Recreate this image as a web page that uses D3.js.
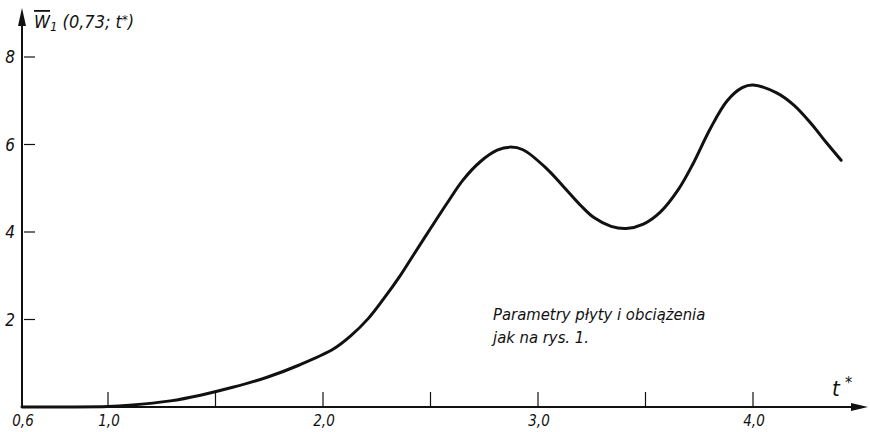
<!DOCTYPE html>
<html>
<head>
<meta charset="utf-8">
<script src="https://cdn.jsdelivr.net/npm/d3@7"></script>
<style>
  body { margin: 0; background: #fff; }
  text { font-family: 'DejaVu Sans Condensed', 'DejaVu Sans', sans-serif; font-style: italic; fill: #111; }
</style>
</head>
<body>
<svg id="chart"></svg>
<script>
const tValues = [0.6, 0.8, 1.0, 1.1, 1.29, 1.43, 1.58, 1.74, 1.89, 2.05, 2.13, 2.21, 2.28, 2.36, 2.42, 2.5, 2.58, 2.65, 2.73, 2.81, 2.87, 2.93, 3.04, 3.12, 3.2, 3.26, 3.34, 3.41, 3.49, 3.57, 3.65, 3.72, 3.8, 3.88, 3.95, 4.0, 4.11, 4.19, 4.27, 4.34, 4.41]
const wValues = [0, 0, 0.01, 0.04, 0.14, 0.27, 0.45, 0.68, 0.96, 1.33, 1.63, 2.02, 2.46, 3.01, 3.47, 4.08, 4.68, 5.18, 5.6, 5.87, 5.94, 5.88, 5.45, 5.03, 4.6, 4.33, 4.13, 4.08, 4.18, 4.46, 4.95, 5.55, 6.35, 7.0, 7.3, 7.36, 7.18, 6.9, 6.48, 6.05, 5.64]

const xTicks = [1.0, 1.5, 2.0, 2.5, 3.0, 3.5, 4.0]
const xTickLabels = [['0,6', 0.6], ['1,0', 1.0], ['2,0', 2.0], ['3,0', 3.0], ['4,0', 4.0]]
const yTicks = [2, 4, 6, 8]
const noteLines = ['Parametry płyty i obciążenia', 'jak na rys. 1.']

const width = 870, height = 432
const svg = d3.select('#chart').attr('width', width).attr('height', height)

const x = d3.scaleLinear().domain([0.6, 4.0]).range([22, 753])
const y = d3.scaleLinear().domain([0, 8]).range([407, 57])

// axes
svg.append('line')
    .attr('x1', x(0.6)).attr('x2', 862)
    .attr('y1', y(0)).attr('y2', y(0))
    .attr('stroke', '#111').attr('stroke-width', 2)
svg.append('path')
    .attr('d', `M868,${y(0)} L851,${y(0) - 4} L851,${y(0) + 4} Z`)
    .attr('fill', '#111')

svg.append('line')
    .attr('x1', x(0.6)).attr('x2', x(0.6))
    .attr('y1', y(0)).attr('y2', 14)
    .attr('stroke', '#111').attr('stroke-width', 2)
svg.append('path')
    .attr('d', `M${x(0.6)},8 L${x(0.6) - 4},26 L${x(0.6) + 4},26 Z`)
    .attr('fill', '#111')

// x ticks
svg.append('g')
    .selectAll('line')
    .data(xTicks)
    .enter().append('line')
    .attr('x1', d => x(d)).attr('x2', d => x(d))
    .attr('y1', y(0)).attr('y2', y(0) - 15)
    .attr('stroke', '#111').attr('stroke-width', 1.2)

svg.append('g')
    .selectAll('text')
    .data(xTickLabels)
    .enter().append('text')
    .attr('x', d => x(d[1]) + 1)
    .attr('y', 426)
    .attr('text-anchor', 'middle')
    .attr('font-size', '15px')
    .text(d => d[0])

// y ticks
svg.append('g')
    .selectAll('line')
    .data(yTicks)
    .enter().append('line')
    .attr('x1', x(0.6) + 2).attr('x2', x(0.6) + 13)
    .attr('y1', d => y(d)).attr('y2', d => y(d))
    .attr('stroke', '#111').attr('stroke-width', 1.2)

svg.append('g')
    .selectAll('text')
    .data(yTicks)
    .enter().append('text')
    .attr('x', 10)
    .attr('y', d => y(d) + 6)
    .attr('text-anchor', 'middle')
    .attr('font-size', '17px')
    .text(d => d)

// axis titles
const yTitle = svg.append('text')
    .attr('x', 34).attr('y', 28)
    .attr('font-size', '18px')
yTitle.append('tspan').text('W').style('text-decoration', 'overline')
yTitle.append('tspan').attr('font-size', '13px').attr('dy', 3).text('1')
yTitle.append('tspan').attr('dy', -3).text(' (0,73; t')
yTitle.append('tspan').attr('font-size', '13px').attr('dy', -4).text('*')
yTitle.append('tspan').attr('dy', 4).text(')')

svg.append('text')
    .attr('x', 832).attr('y', 396)
    .attr('font-size', '22px')
    .text('t')
svg.append('text')
    .attr('x', 845).attr('y', 388)
    .attr('font-size', '16px')
    .text('*')

// note
svg.append('g')
    .selectAll('text')
    .data(noteLines)
    .enter().append('text')
    .attr('x', 493)
    .attr('y', (d, i) => 320 + i * 23)
    .attr('font-size', '16.5px')
    .text(d => d)

// curve
const line = d3.line()
    .x((d, i) => x(tValues[i]))
    .y(d => y(d))
    .curve(d3.curveCatmullRom)

svg.append('path')
    .datum(wValues)
    .attr('d', line)
    .attr('fill', 'none')
    .attr('stroke', '#111')
    .attr('stroke-width', 3)
    .attr('stroke-linecap', 'round')
</script>
</body>
</html>
